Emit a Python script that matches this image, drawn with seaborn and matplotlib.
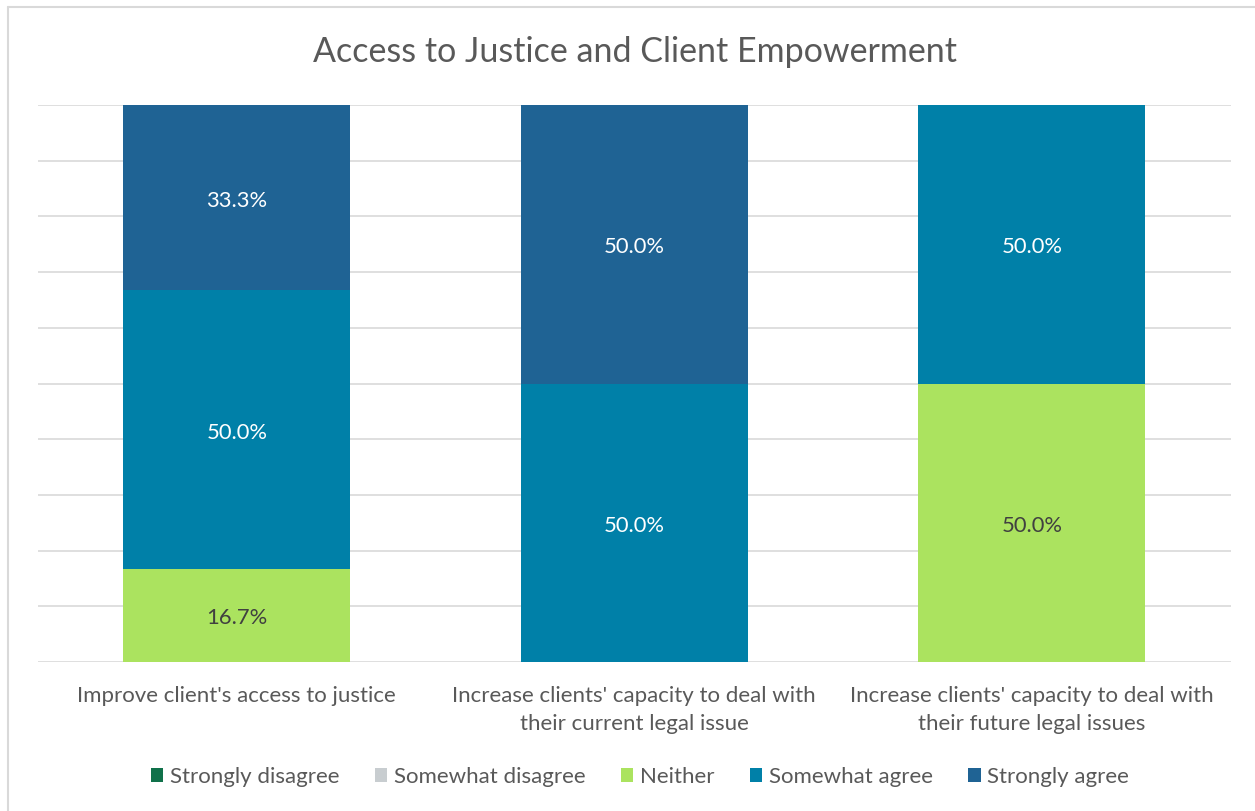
import matplotlib
matplotlib.use("Agg")
import matplotlib.pyplot as plt
from matplotlib.patches import Patch
from matplotlib.lines import Line2D
from matplotlib.transforms import offset_copy
import seaborn as sns
import pandas as pd
import numpy as np

categories = [
    "Improve client's access to justice",
    "Increase clients' capacity to deal with\ntheir current legal issue",
    "Increase clients' capacity to deal with\ntheir future legal issues",
]
responses = ["Strongly disagree", "Somewhat disagree", "Neither", "Somewhat agree", "Strongly agree"]
strongly_disagree = [0.0, 0.0, 0.0]
somewhat_disagree = [0.0, 0.0, 0.0]
neither = [16.7, 0.0, 50.0]
somewhat_agree = [50.0, 50.0, 50.0]
strongly_agree = [33.3, 50.0, 0.0]

colors = ["#10714A", "#C8CDD0", "#ABE35F", "#0080A8", "#1F6394"]
label_colors = ["white", "#404040", "#404040", "white", "white"]

series = [strongly_disagree, somewhat_disagree, neither, somewhat_agree, strongly_agree]

sns.set_theme(style="white")
plt.rcParams["font.family"] = ["Lato", "DejaVu Sans"]

fig = plt.figure(figsize=(12.55, 8.11), dpi=100)
W, H = 1255, 811
ax = fig.add_axes([38 / W, 1 - 662 / H, (1230.5 - 38) / W, (662 - 105) / H])

# chart frame
fig.add_artist(Line2D([8 / W, 8 / W], [0, 1 - 7 / H], color="#D9D9D9", lw=1.5, transform=fig.transFigure))
fig.add_artist(Line2D([8 / W, 1], [1 - 7 / H, 1 - 7 / H], color="#D9D9D9", lw=1.5, transform=fig.transFigure))

ax.set_axisbelow(True)
for y in np.arange(0, 101, 10):
    ax.axhline(y, color="#D9D9D9", lw=1.2, zorder=0)

label_tf = offset_copy(ax.transData, fig=fig, x=0, y=-3, units="dots")
bottom = np.zeros(len(categories))
for name, vals, col, lc in zip(responses, series, colors, label_colors):
    df = pd.DataFrame({"cat": categories, "val": vals})
    sns.barplot(data=df, x="cat", y="val", color=col, bottom=bottom, width=0.571,
                ax=ax, saturation=1, errorbar=None, zorder=2, linewidth=0)
    for i, v in enumerate(vals):
        if v > 0:
            ax.text(i, bottom[i] + v / 2, f"{v:.1f}%", ha="center", va="center",
                    color=lc, fontsize=15.8, zorder=3, transform=label_tf)
    bottom = bottom + np.array(vals)

ax.set_xlim(-0.5, 2.5)
ax.set_ylim(0, 100)
ax.set_yticks([])
ax.set_xlabel("")
ax.set_ylabel("")
for s in ax.spines.values():
    s.set_visible(False)
ax.tick_params(axis="x", length=0, pad=17, labelsize=16, labelcolor="#595959")
for t in ax.get_xticklabels():
    t.set_linespacing(1.55)

fig.text(0.506, 1 - 52 / H, "Access to Justice and Client Empowerment", ha="center", va="center",
         fontsize=24.5, color="#595959")

handles = [Patch(facecolor=c, edgecolor="none") for c in colors]
fig.legend(handles, responses, loc="center", bbox_to_anchor=(640 / W, 1 - 777 / H), ncol=5,
           frameon=False, fontsize=16, labelcolor="#595959", handlelength=0.55, handleheight=0.55,
           handletextpad=0.3, columnspacing=1.6)

fig.savefig("out.png", dpi=100, facecolor="white")
